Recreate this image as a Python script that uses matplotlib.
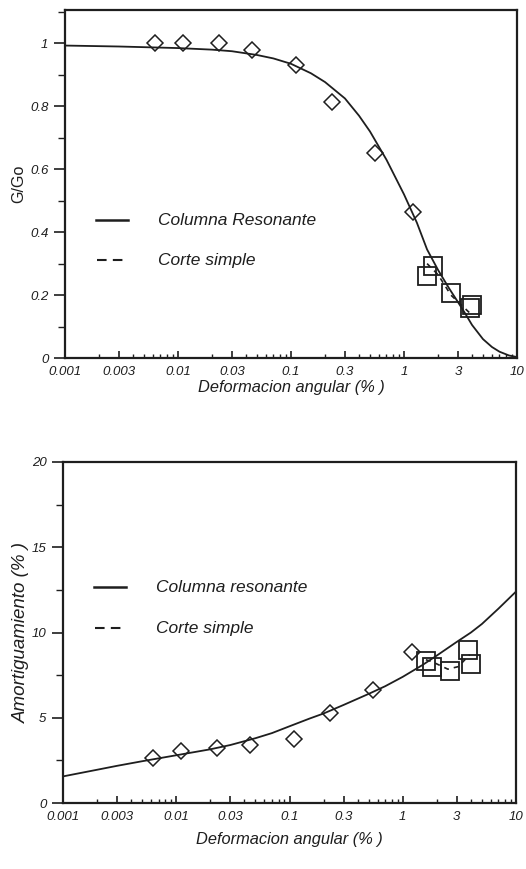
import matplotlib
matplotlib.use("Agg")
import matplotlib.pyplot as plt
from matplotlib.ticker import FixedLocator, FixedFormatter, LogLocator, MultipleLocator, NullFormatter

# ---- data ----
x_diamond = [0.0062, 0.011, 0.023, 0.045, 0.11, 0.23, 0.55, 1.2]
g_diamond = [1.0, 1.0, 1.0, 0.978, 0.931, 0.815, 0.652, 0.463]
d_diamond = [2.64, 3.03, 3.22, 3.40, 3.75, 5.28, 6.65, 8.83]

x_square = [1.6, 1.8, 2.6, 3.8, 4.0]
g_square = [0.26, 0.293, 0.207, 0.158, 0.168]
d_square = [8.35, 8.0, 7.75, 8.95, 8.15]

x_curve_g = [0.001, 0.003, 0.01, 0.02, 0.03, 0.05, 0.07, 0.1, 0.15, 0.2, 0.3, 0.4, 0.5, 0.7,
             1.0, 1.3, 1.6, 2.0, 2.5, 3.0, 3.5, 4.0, 5.0, 6.0, 7.0, 8.5, 10.0]
g_curve = [0.993, 0.99, 0.985, 0.98, 0.975, 0.963, 0.952, 0.935, 0.905, 0.877, 0.825, 0.77, 0.72, 0.63,
           0.52, 0.43, 0.345, 0.28, 0.222, 0.178, 0.14, 0.105, 0.06, 0.035, 0.02, 0.008, 0.003]

x_dash_g = [1.6, 2.0, 2.6, 3.9]
g_dash = [0.30, 0.265, 0.2, 0.14]

x_curve_d = [0.001, 0.002, 0.003, 0.005, 0.01, 0.02, 0.03, 0.05, 0.07, 0.1, 0.15, 0.2, 0.3, 0.5, 0.7,
             1.0, 1.5, 2.0, 3.0, 4.0, 5.0, 7.0, 10.0]
d_curve = [1.56, 1.95, 2.18, 2.45, 2.8, 3.15, 3.4, 3.8, 4.1, 4.5, 4.95, 5.25, 5.75, 6.4, 6.85,
           7.4, 8.1, 8.65, 9.45, 10.0, 10.5, 11.4, 12.4]

x_dash_d = [1.6, 1.8, 2.5, 3.1, 3.9]
d_dash = [8.4, 8.3, 7.85, 8.0, 8.7]

xticks = [0.001, 0.003, 0.01, 0.03, 0.1, 0.3, 1, 3, 10]
xticklabels = ["0.001", "0.003", "0.01", "0.03", "0.1", "0.3", "1", "3", "10"]
g_yticks = [0, 0.2, 0.4, 0.6, 0.8, 1]
g_yticklabels = ["0", "0.2", "0.4", "0.6", "0.8", "1"]
d_yticks = [0, 5, 10, 15, 20]
d_yticklabels = ["0", "5", "10", "15", "20"]

FONT = "Liberation Sans"
INK = "#1e1e1e"
W, H = 526, 869
fig = plt.figure(figsize=(W / 100, H / 100), dpi=100)

def px_axes(l, t, r, b):
    return fig.add_axes([l / W, 1 - b / H, (r - l) / W, (b - t) / H])

def style(ax, yticks, yticklabels, yminor):
    ax.set_xscale("log")
    ax.set_xlim(0.001, 10)
    ax.xaxis.set_major_locator(FixedLocator(xticks))
    ax.xaxis.set_major_formatter(FixedFormatter(xticklabels))
    ax.xaxis.set_minor_locator(LogLocator(base=10, subs=[2, 4, 5, 6, 7, 8, 9], numticks=20))
    ax.xaxis.set_minor_formatter(NullFormatter())
    ax.set_yticks(yticks)
    ax.set_yticklabels(yticklabels)
    ax.yaxis.set_minor_locator(MultipleLocator(yminor))
    ax.tick_params(axis="x", which="major", direction="in", length=5, width=1.2, pad=6, colors=INK)
    ax.tick_params(axis="x", which="minor", direction="in", length=3, width=1.0, colors=INK)
    ax.tick_params(axis="y", which="major", direction="out", length=8, width=1.2, pad=4, colors=INK)
    ax.tick_params(axis="y", which="minor", direction="out", length=5, width=1.0, colors=INK)
    for lab in ax.get_xticklabels() + ax.get_yticklabels():
        lab.set_fontfamily(FONT)
        lab.set_fontstyle("italic")
        lab.set_fontsize(9.5)
    for s in ax.spines.values():
        s.set_linewidth(1.6)
        s.set_color(INK)

def legend(ax, y1, y2, t1, t2):
    ax.plot([0.068, 0.14], [y1, y1], color=INK, lw=1.8, transform=ax.transAxes, clip_on=False)
    ax.plot([0.0708, 0.128], [y2, y2], color=INK, lw=1.5, ls=(0, (4.6, 3.0)), transform=ax.transAxes, clip_on=False)
    ax.text(0.206, y1, t1, transform=ax.transAxes, fontfamily=FONT, fontstyle="italic",
            fontsize=12.5, va="center", ha="left", color=INK)
    ax.text(0.206, y2, t2, transform=ax.transAxes, fontfamily=FONT, fontstyle="italic",
            fontsize=12.5, va="center", ha="left", color=INK)

# ---- top plot ----
ax1 = px_axes(65, 10, 517, 358)
ax1.set_ylim(0, 1.106)
ax1.plot(x_curve_g, g_curve, color=INK, lw=1.3)
ax1.plot(x_dash_g, g_dash, color=INK, lw=1.2, ls=(0, (3, 3)))
ax1.plot(x_diamond, g_diamond, ls="none", marker="D", ms=8.5, mfc="none", mec=INK, mew=1.1)
ax1.plot(x_square, g_square, ls="none", marker="s", ms=13, mfc="none", mec=INK, mew=1.3)
style(ax1, g_yticks, g_yticklabels, 0.1)
ax1.set_xlabel("Deformacion angular (% )", fontfamily=FONT, fontstyle="italic", fontsize=11.8, labelpad=1, color=INK)
ax1.set_ylabel("G/Go", fontfamily=FONT, fontsize=11.5, labelpad=3, color=INK)
legend(ax1, 1 - (220 - 10) / 348, 1 - (260 - 10) / 348, "Columna Resonante", "Corte simple")

# ---- bottom plot ----
ax2 = px_axes(63, 462, 516, 803)
ax2.set_ylim(0, 20)
ax2.plot(x_curve_d, d_curve, color=INK, lw=1.3)
ax2.plot(x_dash_d, d_dash, color=INK, lw=1.2, ls=(0, (3, 3)))
ax2.plot(x_diamond, d_diamond, ls="none", marker="D", ms=8.5, mfc="none", mec=INK, mew=1.1)
ax2.plot(x_square, d_square, ls="none", marker="s", ms=13, mfc="none", mec=INK, mew=1.3)
style(ax2, d_yticks, d_yticklabels, 2.5)
ax2.set_xlabel("Deformacion angular (% )", fontfamily=FONT, fontstyle="italic", fontsize=11.8, labelpad=6, color=INK)
ax2.set_ylabel("Amortiguamiento (% )", fontfamily=FONT, fontstyle="italic", fontsize=13.5, labelpad=1, color=INK)
legend(ax2, 1 - (587 - 462) / 341, 1 - (628 - 462) / 341, "Columna resonante", "Corte simple")

fig.savefig("out.png", dpi=100)
